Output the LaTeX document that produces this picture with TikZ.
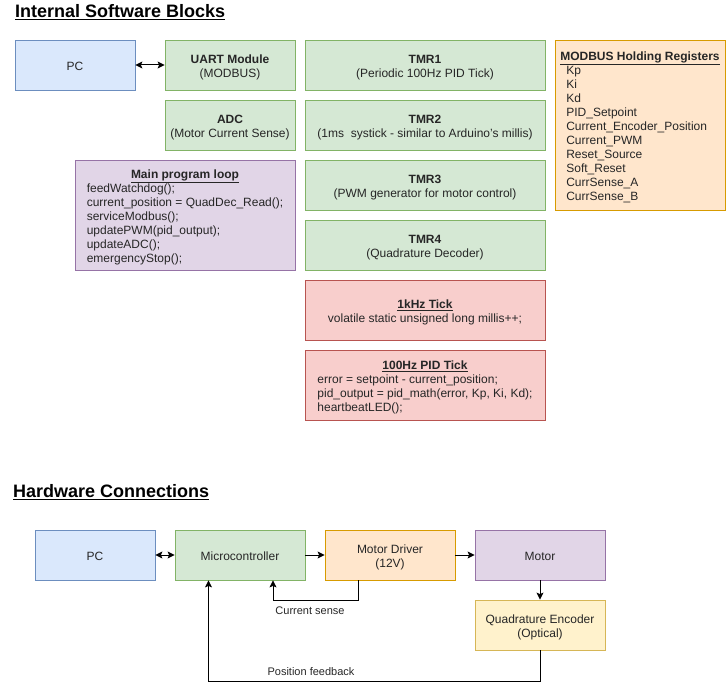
\documentclass[tikz,border=0pt]{standalone}
\usepackage{fontspec}
\setmainfont{Liberation Sans}
\usepackage{tikz}
\usetikzlibrary{shapes,arrows,arrows.meta,positioning}

\definecolor{BlueFill}{HTML}{DAE8FC}\definecolor{BlueLine}{HTML}{6C8EBF}
\definecolor{GreenFill}{HTML}{D5E8D4}\definecolor{GreenLine}{HTML}{82B366}
\definecolor{PurpleFill}{HTML}{E1D5E7}\definecolor{PurpleLine}{HTML}{9673A6}
\definecolor{OrangeFill}{HTML}{FFE6CC}\definecolor{OrangeLine}{HTML}{D79B00}
\definecolor{RedFill}{HTML}{F8CECC}\definecolor{RedLine}{HTML}{B85450}
\definecolor{YellowFill}{HTML}{FFF2CC}\definecolor{YellowLine}{HTML}{D6B656}

\newcommand{\boxtitle}[1]{\textbf{\underline{#1}}}
% centred lines, dropped a little to sit like the original
\newcommand{\centrelines}[1]{\raisebox{-2.5pt}[\height][\depth]{\begin{tabular}{@{}c@{}}#1\end{tabular}}}
% centred title over left aligned lines, #1 = indent of the lines
\newcommand{\listlines}[3]{\raisebox{-3pt}[\height][\depth]{\begin{tabular}{@{\hspace{#1}}l@{}}\multicolumn{1}{@{}c@{}}{\boxtitle{#2}}\\#3\end{tabular}}}

\begin{document}
\begin{tikzpicture}[x=1pt, y=-1pt, font=\fontsize{12}{14}\selectfont]
		\tikzstyle{Block}	= [rectangle, draw, line width=0.8pt, inner sep=0pt, text=black!85]
		\tikzstyle{PCBox}	= [Block, fill=BlueFill, draw=BlueLine]
		\tikzstyle{Module}	= [Block, fill=GreenFill, draw=GreenLine]
		\tikzstyle{Loop}	= [Block, fill=PurpleFill, draw=PurpleLine]
		\tikzstyle{Regs}	= [Block, fill=OrangeFill, draw=OrangeLine]
		\tikzstyle{ISR}		= [Block, fill=RedFill, draw=RedLine]
		\tikzstyle{Sensor}	= [Block, fill=YellowFill, draw=YellowLine]
		\tikzstyle{Heading}	= [anchor=base west, inner sep=0pt, font=\fontsize{18}{20}\selectfont\bfseries]
		\tikzstyle{Wire}	= [line width=1pt, -{Stealth[length=7pt, width=7pt, inset=1.5pt]}]
		\tikzstyle{BiWire}	= [line width=1pt, {Stealth[length=7pt, width=7pt, inset=1.5pt]}-{Stealth[length=7pt, width=7pt, inset=1.5pt]}]
		\tikzstyle{WireLbl}	= [anchor=base, inner sep=0pt, font=\fontsize{11}{13}\selectfont, text=black!85]

		\useasboundingbox (0,0) rectangle (726,690);

		% software blocks
		\node (swtitle) at (15,17.5) [Heading] {\underline{Internal Software Blocks}};

		\node (pcsw) at (75,65) [PCBox][minimum width=120pt, minimum height=50pt] {\centrelines{PC}};
		\node (uart) at (230,65) [Module][minimum width=130pt, minimum height=50pt] {\centrelines{\textbf{UART Module}\\(MODBUS)}};
		\node (adc) at (230,125) [Module][minimum width=130pt, minimum height=50pt] {\centrelines{\textbf{ADC}\\(Motor Current Sense)}};
		\node (mainloop) at (185,215) [Loop][minimum width=220pt, minimum height=110pt]
			{\listlines{0pt}{Main program loop}{
			feedWatchdog();\\
			current\_position = QuadDec\_Read();\\
			serviceModbus();\\
			updatePWM(pid\_output);\\
			updateADC();\\
			emergencyStop();}};

		\node (tmr1) at (425,65) [Module][minimum width=240pt, minimum height=50pt] {\centrelines{\textbf{TMR1}\\(Periodic 100Hz PID Tick)}};
		\node (tmr2) at (425,125) [Module][minimum width=240pt, minimum height=50pt] {\centrelines{\textbf{TMR2}\\(1ms\ \ systick - similar to Arduino's millis)}};
		\node (tmr3) at (425,185) [Module][minimum width=240pt, minimum height=50pt] {\centrelines{\textbf{TMR3}\\(PWM generator for motor control)}};
		\node (tmr4) at (425,245) [Module][minimum width=240pt, minimum height=50pt] {\centrelines{\textbf{TMR4}\\(Quadrature Decoder)}};

		\node (tick1k) at (425,310) [ISR][minimum width=240pt, minimum height=60pt] {\centrelines{\boxtitle{1kHz Tick}\\volatile static unsigned long millis++;}};
		\node (tick100) at (425,385) [ISR][minimum width=240pt, minimum height=70pt]
			{\listlines{0pt}{100Hz PID Tick}{
			error = setpoint - current\_position;\\
			pid\_output = pid\_math(error, Kp, Ki, Kd);\\
			heartbeatLED();}};

		\node (modbus) at (640,125) [Regs][minimum width=170pt, minimum height=170pt]
			{\listlines{6pt}{MODBUS Holding Registers}{
			Kp\\
			Ki\\
			Kd\\
			PID\_Setpoint\\
			Current\_Encoder\_Position\\
			Current\_PWM\\
			Reset\_Source\\
			Soft\_Reset\\
			CurrSense\_A\\
			CurrSense\_B}};

		\draw[BiWire] (pcsw) -- (uart);

		% hardware
		\node (hwtitle) at (13,497.5) [Heading] {\underline{Hardware Connections}};

		\node (pc) at (95,555) [PCBox][minimum width=120pt, minimum height=50pt] {\centrelines{PC}};
		\node (mcu) at (240,555) [Module][minimum width=130pt, minimum height=50pt] {\centrelines{Microcontroller}};
		\node (driver) at (390,555) [Regs][minimum width=130pt, minimum height=50pt] {\centrelines{Motor Driver\\(12V)}};
		\node (motor) at (540,555) [Loop][minimum width=130pt, minimum height=50pt] {\centrelines{Motor}};
		\node (enc) at (540,625) [Sensor][minimum width=130pt, minimum height=50pt] {\centrelines{Quadrature Encoder\\(Optical)}};

		\draw[BiWire] (pc) -- (mcu);
		\draw[Wire] (mcu) -- (driver);
		\draw[Wire] (driver) -- (motor);
		\draw[Wire] (motor) -- (enc);
		\draw[Wire, line width=0.8pt] ([xshift=-32pt]driver.south) -- ++(0,20) -| ([xshift=33pt]mcu.south);
		\draw[Wire, line width=0.8pt] (enc.south) -- ++(0,31) -| ([xshift=-31.5pt]mcu.south);

		\node (lblsense) at (310,614) [WireLbl] {Current sense};
		\node (lblpos) at (311,675) [WireLbl] {Position feedback};
	\end{tikzpicture}
\end{document}
